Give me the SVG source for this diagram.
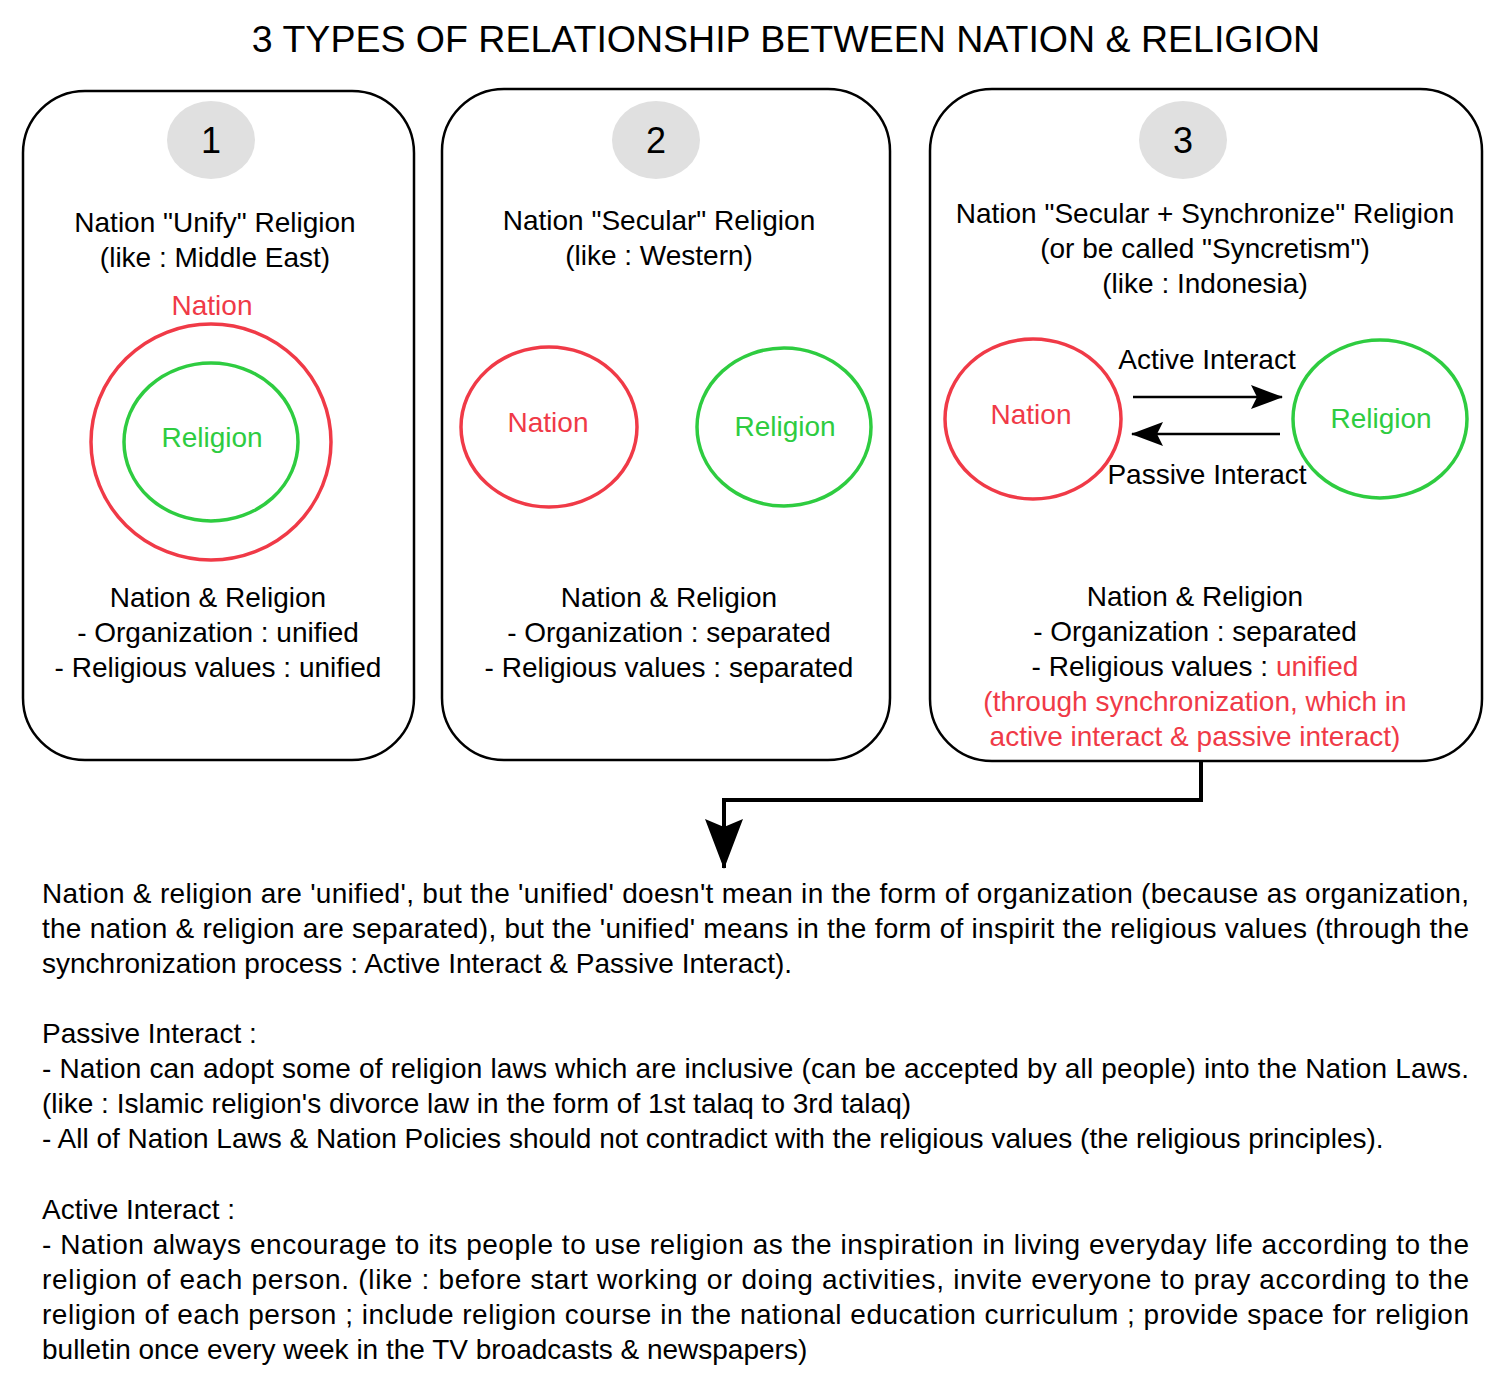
<svg xmlns="http://www.w3.org/2000/svg" width="1506" height="1386" viewBox="0 0 1506 1386">
<style>
text{font-family:"Liberation Sans",Arial,sans-serif;font-size:28px;fill:#000}
.c{text-anchor:middle}
.r{fill:#f03a47}
.g{fill:#2ecc40}
.panel{fill:#fff;stroke:#000;stroke-width:2.5}
.num{fill:#e0e0e0}
.rc{fill:none;stroke:#f03a47;stroke-width:3.5}
.gc{fill:none;stroke:#2ecc40;stroke-width:3.5}
.title{font-size:37.5px}
.n{font-size:36px}
</style>
<defs>
<marker id="ah" viewBox="0 0 32 24" refX="31" refY="12" markerWidth="32" markerHeight="24" markerUnits="userSpaceOnUse" orient="auto">
<path d="M0,0 L32,12 L0,24 L6,12 Z" fill="#000"/>
</marker>
<marker id="big" viewBox="0 0 50 38" refX="49" refY="19" markerWidth="50" markerHeight="38" markerUnits="userSpaceOnUse" orient="auto">
<path d="M0,0 L50,19 L0,38 L8,19 Z" fill="#000"/>
</marker>
</defs>
<rect width="1506" height="1386" fill="#fff"/>
<text class="c title" x="786" y="52">3 TYPES OF RELATIONSHIP BETWEEN NATION &amp; RELIGION</text>

<g id="panel1">
<rect class="panel" x="23" y="91" width="391" height="669" rx="62"/>
<ellipse class="num" cx="211" cy="140" rx="44" ry="39"/>
<text class="c n" x="211" y="153">1</text>
<text class="c" x="215" y="232">Nation "Unify" Religion</text>
<text class="c" x="215" y="267">(like : Middle East)</text>
<text class="c r" x="212" y="315">Nation</text>
<ellipse class="rc" cx="211" cy="442" rx="120" ry="118"/>
<ellipse class="gc" cx="211" cy="442" rx="87" ry="79"/>
<text class="c g" x="212" y="447">Religion</text>
<text class="c" x="218" y="607">Nation &amp; Religion</text>
<text class="c" x="218" y="642">- Organization : unified</text>
<text class="c" x="218" y="677">- Religious values : unified</text>
</g>

<g id="panel2">
<rect class="panel" x="442" y="89" width="448" height="671" rx="62"/>
<ellipse class="num" cx="656" cy="140" rx="44" ry="39"/>
<text class="c n" x="656" y="153">2</text>
<text class="c" x="659" y="230">Nation "Secular" Religion</text>
<text class="c" x="659" y="265">(like : Western)</text>
<ellipse class="rc" cx="549" cy="427" rx="88" ry="80"/>
<text class="c r" x="548" y="432">Nation</text>
<ellipse class="gc" cx="784" cy="427" rx="87" ry="79"/>
<text class="c g" x="785" y="436">Religion</text>
<text class="c" x="669" y="607">Nation &amp; Religion</text>
<text class="c" x="669" y="642">- Organization : separated</text>
<text class="c" x="669" y="677">- Religious values : separated</text>
</g>

<g id="panel3">
<rect class="panel" x="930" y="89" width="552" height="672" rx="62"/>
<ellipse class="num" cx="1183" cy="140" rx="44" ry="39"/>
<text class="c n" x="1183" y="153">3</text>
<text class="c" x="1205" y="223">Nation "Secular + Synchronize" Religion</text>
<text class="c" x="1205" y="258">(or be called "Syncretism")</text>
<text class="c" x="1205" y="293">(like : Indonesia)</text>
<ellipse class="rc" cx="1033" cy="419" rx="88" ry="80"/>
<text class="c r" x="1031" y="424">Nation</text>
<ellipse class="gc" cx="1380" cy="419" rx="87" ry="79"/>
<text class="c g" x="1381" y="428">Religion</text>
<text class="c" x="1207" y="369">Active Interact</text>
<text class="c" x="1207" y="484">Passive Interact</text>
<text class="c" x="1195" y="606">Nation &amp; Religion</text>
<text class="c" x="1195" y="641">- Organization : separated</text>
<text class="c" x="1195" y="676">- Religious values : <tspan class="r">unified</tspan></text>
<text class="c r" x="1195" y="711">(through synchronization, which in</text>
<text class="c r" x="1195" y="746">active interact &amp; passive interact)</text>
</g>

<g id="connectors" fill="none" stroke="#000">
<line x1="1133" y1="397" x2="1282" y2="397" stroke-width="2.5" marker-end="url(#ah)"/>
<line x1="1280" y1="434" x2="1132" y2="434" stroke-width="2.5" marker-end="url(#ah)"/>
<polyline points="1201,761 1201,800 724,800 724,868" stroke-width="4" marker-end="url(#big)"/>
</g>

<g id="notes">
<text x="42" y="903" textLength="1427" lengthAdjust="spacing">Nation &amp; religion are 'unified', but the 'unified' doesn't mean in the form of organization (because as organization,</text>
<text x="42" y="938" textLength="1427" lengthAdjust="spacing">the nation &amp; religion are separated), but the 'unified' means in the form of inspirit the religious values (through the</text>
<text x="42" y="973">synchronization process : Active Interact &amp; Passive Interact).</text>
<text x="42" y="1043">Passive Interact :</text>
<text x="42" y="1078" textLength="1427" lengthAdjust="spacing">- Nation can adopt some of religion laws which are inclusive (can be accepted by all people) into the Nation Laws.</text>
<text x="42" y="1113">(like : Islamic religion's divorce law in the form of 1st talaq to 3rd talaq)</text>
<text x="42" y="1148">- All of Nation Laws &amp; Nation Policies should not contradict with the religious values (the religious principles).</text>
<text x="42" y="1219">Active Interact :</text>
<text x="42" y="1254" textLength="1427" lengthAdjust="spacing">- Nation always encourage to its people to use religion as the inspiration in living everyday life according to the</text>
<text x="42" y="1289" textLength="1427" lengthAdjust="spacing">religion of each person. (like : before start working or doing activities, invite everyone to pray according to the</text>
<text x="42" y="1324" textLength="1427" lengthAdjust="spacing">religion of each person ; include religion course in the national education curriculum ; provide space for religion</text>
<text x="42" y="1359">bulletin once every week in the TV broadcasts &amp; newspapers)</text>
</g>
</svg>
